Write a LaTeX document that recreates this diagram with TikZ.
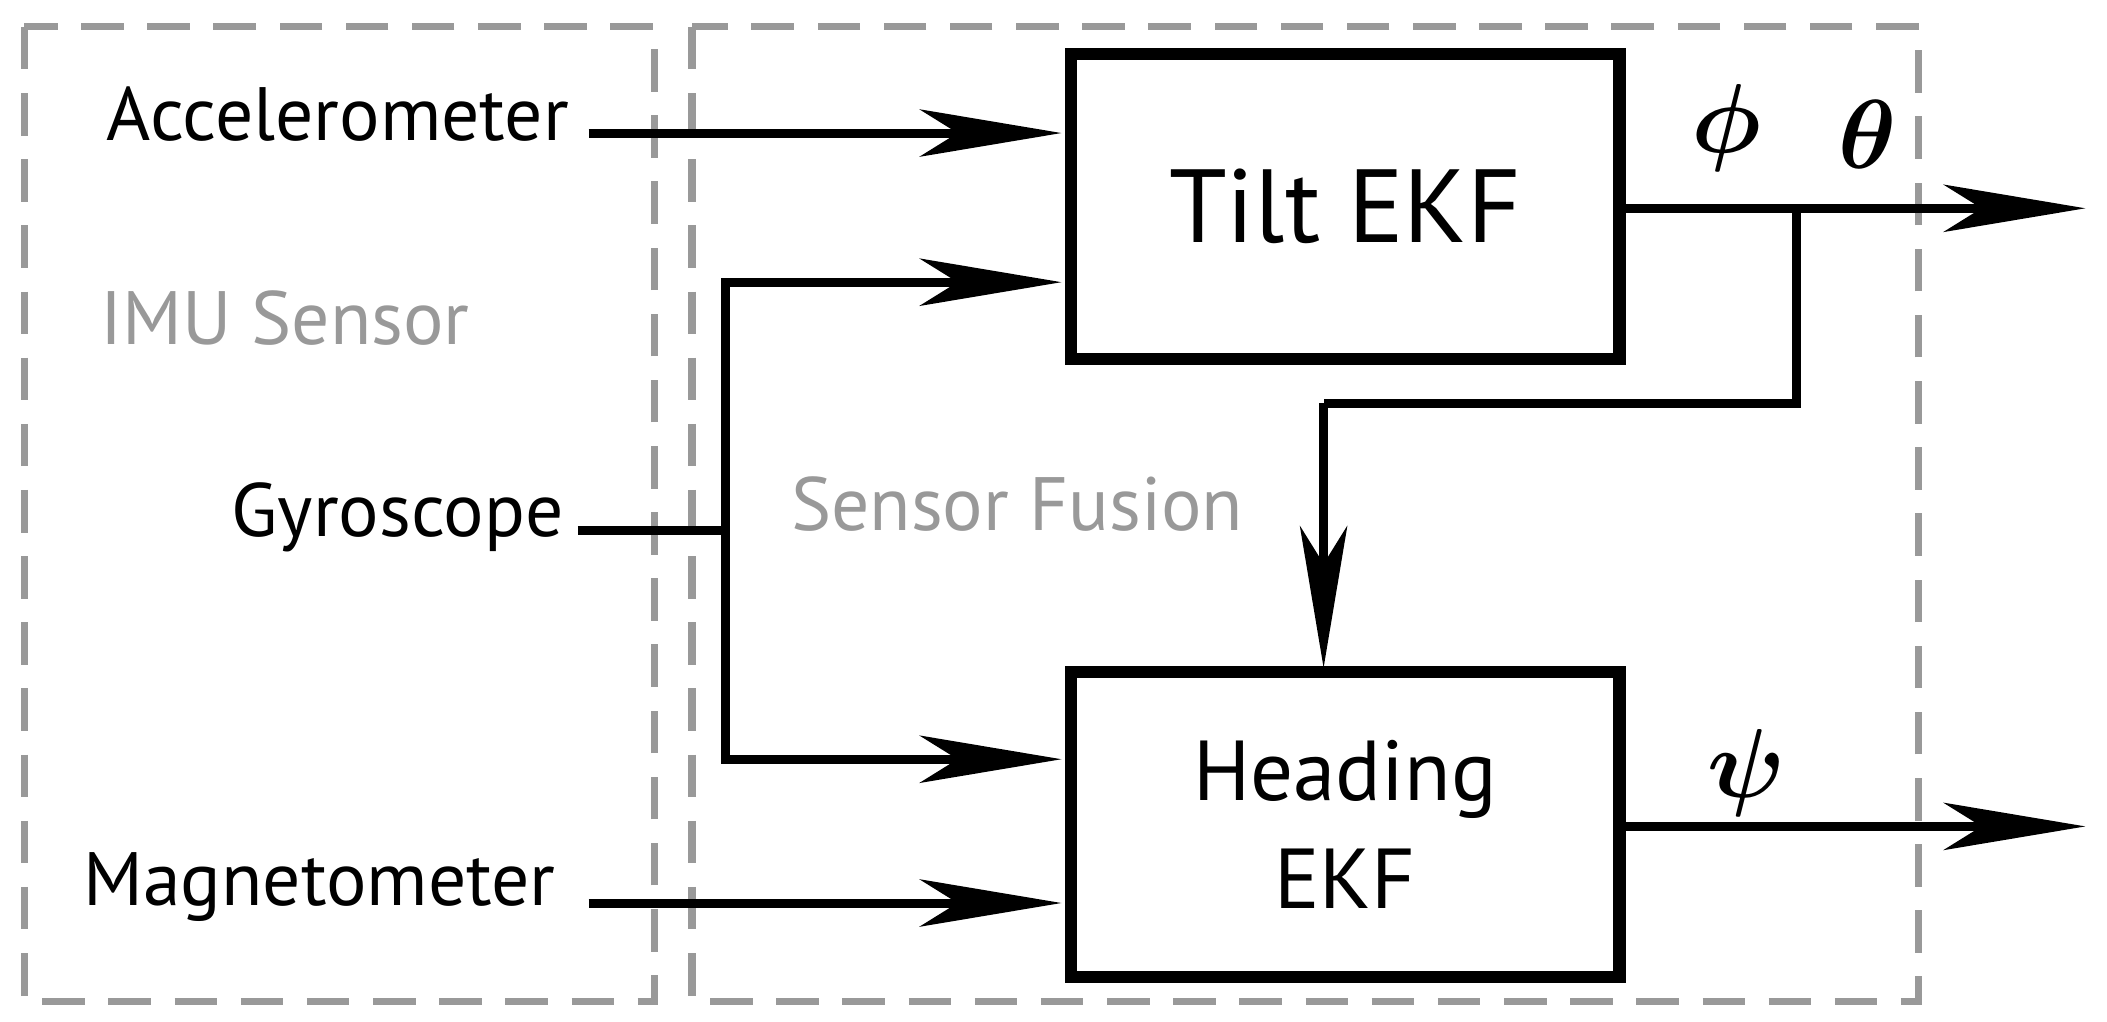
\documentclass[tikz,border=0pt]{standalone}
\usepackage{amsmath}
\usepackage{fontspec}
\setmainfont{PT Sans}
\usetikzlibrary{arrows.meta}
\begin{document}
\begin{tikzpicture}[x=0.01cm,y=-0.01cm,
  dbox/.style={draw=gray!80,line width=1.5pt,dash pattern=on 9pt off 5pt},
  blk/.style={draw,line width=2.6pt,minimum width=4.08cm,minimum height=2.27cm,align=center,inner sep=0},
  con/.style={line width=1.9pt,-{Stealth[length=30pt,width=10pt,inset=8pt]}},
  ln/.style={line width=1.9pt},
  lab/.style={font=\fontsize{16}{18}\selectfont,inner sep=0},
  grey/.style={font=\fontsize{16}{18}\selectfont,text=gray!80,inner sep=0}]
\useasboundingbox (0,0) rectangle (1568,760);
\draw[dbox] (18,20) rectangle (487,745);
\draw[dbox] (515,20) rectangle (1428,745);
\node[blk,font=\fontsize{22}{26}\selectfont] (tilt) at (1001,153.5) {Tilt EKF};
\node[blk,font=\fontsize{18}{23}\selectfont] (head) at (1001,613.5) {Heading\\EKF};
\node[lab,anchor=east] (acc) at (424,85) {Accelerometer};
\node[lab,anchor=east] (gyr) at (420,385) {Gyroscope};
\node[lab,anchor=east] (mag) at (414,660) {Magnetometer};
\node[grey] (imu) at (212,237) {IMU Sensor};
\node[grey] (sf) at (757,375) {Sensor Fusion};
\coordinate (a0) at (438,99); \coordinate (a1) at (790,99);
\draw[con] (a0) -- (a1);
\coordinate (g0) at (430,395); \coordinate (gj) at (540,395);
\coordinate (g1) at (790,210); \coordinate (g2) at (790,565);
\draw[ln] (g0) -- (gj);
\draw[con] (gj) |- (g1);
\draw[con] (gj) |- (g2);
\coordinate (m0) at (438,672); \coordinate (m1) at (790,672);
\draw[con] (m0) -- (m1);
\coordinate (t0) at (1205,155); \coordinate (t1) at (1552,155);
\draw[con] (t0) -- (t1);
\coordinate (b0) at (1337,155); \coordinate (b1) at (985,300); \coordinate (b2) at (985,497);
\draw[ln] (b0) |- (b1);
\draw[con] (b1) -- (b2);
\coordinate (h0) at (1205,615); \coordinate (h1) at (1552,615);
\draw[con] (h0) -- (h1);
\node[font=\fontsize{22}{26}\selectfont] (phi) at (1285,95) {$\boldsymbol{\phi}$};
\node[font=\fontsize{22}{26}\selectfont] (th) at (1390,100) {$\boldsymbol{\theta}$};
\node[font=\fontsize{22}{26}\selectfont] (psi) at (1300,575) {$\boldsymbol{\psi}$};
\end{tikzpicture}
\end{document}
